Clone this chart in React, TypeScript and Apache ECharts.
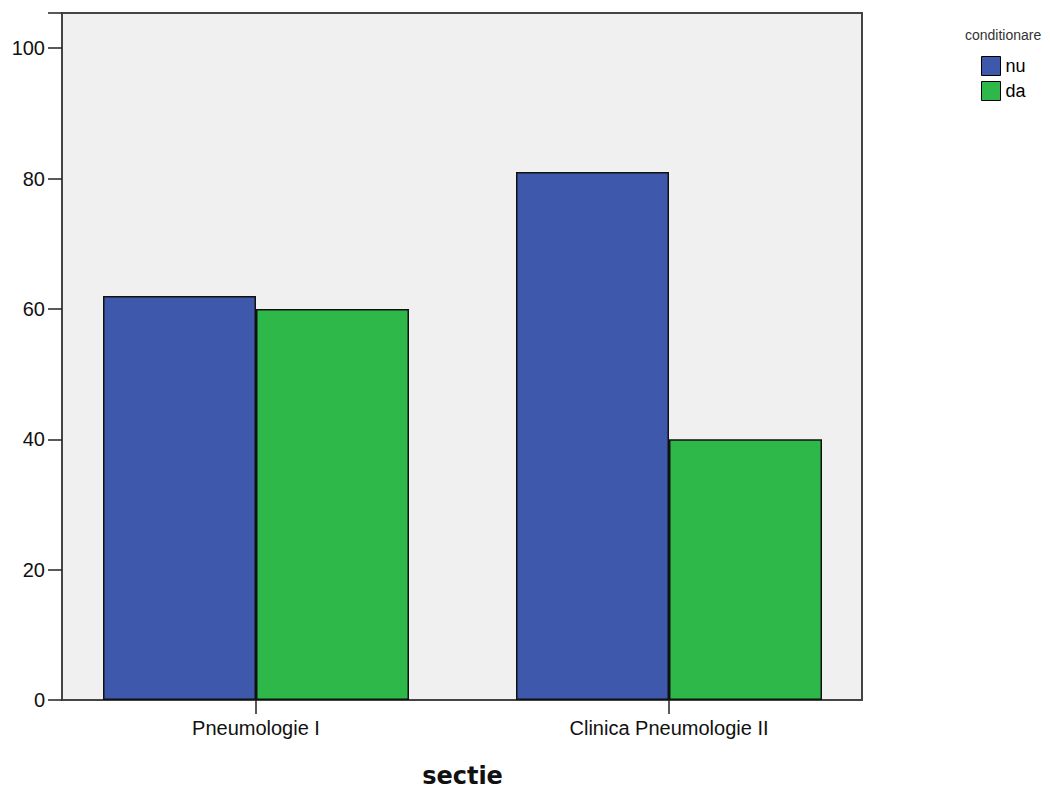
import React, { useEffect, useRef } from "react";
import * as echarts from "echarts";

const categories = ["Pneumologie I", "Clinica Pneumologie II"];
const seriesNames = ["nu", "da"];
const nuValues = [62, 81];
const daValues = [60, 40];
const yMin = 0;
const yMax = 105.4;
const yInterval = 20;

export default function App() {
  const ref = useRef<HTMLDivElement>(null);
  useEffect(() => {
    document.body.style.margin = "0";
    const chart = echarts.init(ref.current!, null, { renderer: "svg" });
    const font = "'Liberation Sans', Arial, sans-serif";
    chart.setOption({
      animation: false,
      backgroundColor: "#ffffff",
      title: {
        text: "conditionare",
        left: 965,
        top: 28,
        padding: 0,
        textStyle: { fontFamily: font, fontSize: 14, fontWeight: "normal", color: "#333" },
      },
      legend: {
        orient: "vertical",
        left: 981,
        top: 56,
        padding: 0,
        itemWidth: 19,
        itemHeight: 19,
        itemGap: 5,
        icon: "rect",
        data: seriesNames,
        textStyle: { fontFamily: font, fontSize: 18, color: "#000" },
        itemStyle: { borderColor: "#000", borderWidth: 1 },
      },
      grid: [
        {
          left: 62,
          top: 13,
          width: 800,
          height: 687,
          show: true,
          backgroundColor: "#f0f0f0",
          borderColor: "#444",
          borderWidth: 2,
          outerBoundsMode: "none",
        },
        {
          left: 49.5,
          top: 13,
          width: 826,
          height: 687,
          outerBoundsMode: "none",
        },
      ],
      xAxis: [
        { gridIndex: 0, type: "category", data: categories, show: false },
        {
          gridIndex: 1,
          type: "category",
          data: categories,
          axisLine: { show: false },
          axisTick: { show: true, alignWithLabel: true, length: 14, lineStyle: { color: "#222", width: 1.5 } },
          axisLabel: { margin: 18, fontFamily: font, fontSize: 20, color: "#111" },
          name: "sectie",
          nameLocation: "middle",
          nameGap: 64,
          nameTextStyle: {
            fontFamily: "'DejaVu Sans', sans-serif",
            fontWeight: "bold",
            fontSize: 24,
            lineHeight: 24,
            color: "#111",
          },
          splitLine: { show: false },
        },
      ],
      yAxis: [
        {
          gridIndex: 0,
          type: "value",
          min: yMin,
          max: yMax,
          interval: yInterval,
          axisLine: { show: false },
          axisTick: { show: true, length: 14, lineStyle: { color: "#222", width: 1.5 } },
          axisLabel: {
            margin: 17,
            fontFamily: font,
            fontSize: 20,
            color: "#111",
            formatter: (v: number) => (v % 20 === 0 ? String(v) : ""),
          },
          splitLine: { show: false },
        },
        { gridIndex: 1, type: "value", min: yMin, max: yMax, show: false },
      ],
      series: [
        {
          name: seriesNames[0],
          type: "bar",
          xAxisIndex: 1,
          yAxisIndex: 1,
          data: nuValues,
          barWidth: 153,
          barGap: "0%",
          itemStyle: { color: "#3e58ac", borderColor: "#111", borderWidth: 1.5 },
        },
        {
          name: seriesNames[1],
          type: "bar",
          xAxisIndex: 1,
          yAxisIndex: 1,
          data: daValues,
          barWidth: 153,
          barGap: "0%",
          itemStyle: { color: "#2fb84a", borderColor: "#111", borderWidth: 1.5 },
        },
      ],
    });
    return () => chart.dispose();
  }, []);
  return <div ref={ref} style={{ width: 1050, height: 789 }} />;
}
